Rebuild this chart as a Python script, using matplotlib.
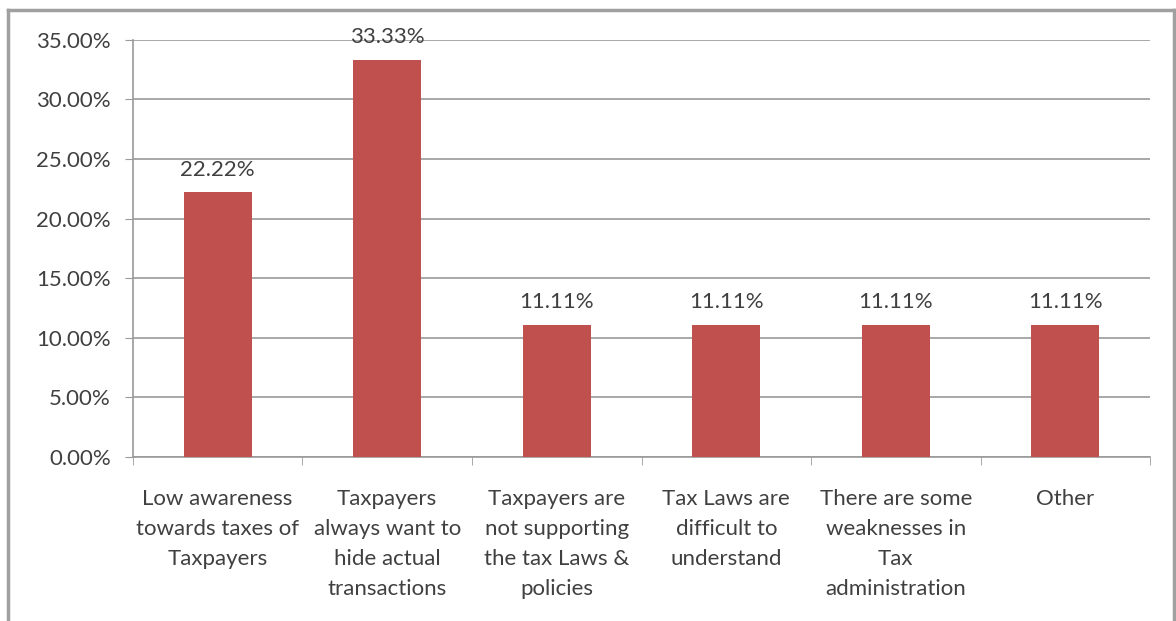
import matplotlib
matplotlib.use("Agg")
import matplotlib.pyplot as plt
from matplotlib.lines import Line2D
from matplotlib.ticker import FuncFormatter, FixedLocator

categories = [
    "Low awareness\ntowards taxes of\nTaxpayers",
    "Taxpayers\nalways want to\nhide actual\ntransactions",
    "Taxpayers are\nnot supporting\nthe tax Laws &\npolicies",
    "Tax Laws are\ndifficult to\nunderstand",
    "There are some\nweaknesses in\nTax\nadministration",
    "Other",
]
values = [22.22, 33.33, 11.11, 11.11, 11.11, 11.11]
y_ticks = [0, 5, 10, 15, 20, 25, 30, 35]

BAR = "#C0504D"
GRID = "#9a9a9a"
TEXT = "#404040"
FS = 16

plt.rcParams["font.family"] = ["Lato", "DejaVu Sans"]

fig = plt.figure(figsize=(11.76, 6.21), dpi=100)
ax = fig.add_axes([0.113, 0.264, 0.865, 0.672])

x = list(range(len(values)))
ax.bar(x, values, width=0.4, color=BAR, zorder=3)

for xi, v in zip(x, values):
    ax.annotate(f"{v:.2f}%", (xi, v), xytext=(0, 9), textcoords="offset points",
                ha="center", va="bottom", fontsize=FS, color=TEXT)

ax.set_xlim(-0.5, len(values) - 0.5)
ax.set_ylim(0, 35)
ax.set_yticks(y_ticks)
ax.yaxis.set_major_formatter(FuncFormatter(lambda v, _: f"{v:.2f}%"))
ax.grid(axis="y", color=GRID, linewidth=1.2, zorder=0)

ax.set_xticks(x)
ax.set_xticklabels(categories, fontsize=FS, color=TEXT, linespacing=1.62)
ax.xaxis.set_minor_locator(FixedLocator([i - 0.5 for i in range(len(values) + 1)]))
ax.tick_params(axis="x", which="major", length=0, pad=23)
ax.tick_params(axis="x", which="minor", length=6, color=GRID, direction="out")
ax.tick_params(axis="y", length=6, color=GRID, labelsize=FS, labelcolor=TEXT, pad=10)

for side in ("top", "right"):
    ax.spines[side].set_visible(False)
for side in ("left", "bottom"):
    ax.spines[side].set_color(GRID)
    ax.spines[side].set_linewidth(1.2)

# outer chart frame
frame = dict(color="#a0a0a0", linewidth=2.5, transform=fig.transFigure)
fig.add_artist(Line2D([8 / 1176, 8 / 1176], [0, 1 - 10 / 621], **frame))
fig.add_artist(Line2D([8 / 1176, 1174 / 1176], [1 - 10 / 621, 1 - 10 / 621], **frame))
fig.add_artist(Line2D([1174 / 1176, 1174 / 1176], [0, 1 - 10 / 621], **frame))

fig.savefig("out.png", dpi=100, facecolor="white")
